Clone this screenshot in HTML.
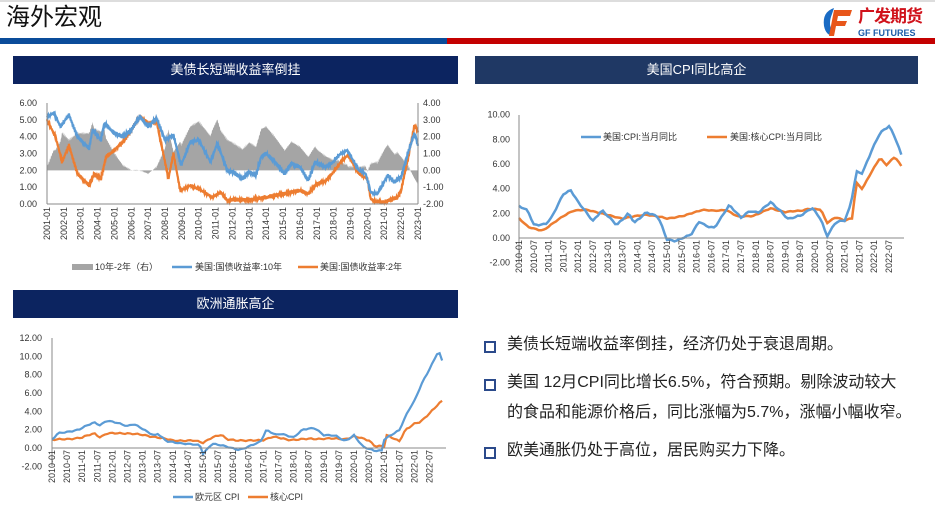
<!DOCTYPE html>
<html><head><meta charset="utf-8"><style>
html,body{margin:0;padding:0;background:#fff}
body{width:935px;height:508px;overflow:hidden;position:relative;font-family:"Liberation Sans","Noto Sans CJK SC",sans-serif}
.bar{position:absolute;color:#fff;font-size:13px;text-align:center;line-height:28px}
.bl{position:absolute;left:487px;font-size:16px;color:#222;line-height:30px;white-space:nowrap}
.sq{position:absolute;left:-3px;width:8px;height:8px;border:2px solid #2b4a8b}
</style></head><body>
<div style="position:absolute;left:0;top:0;width:935px;height:2px;background:#ddd"></div>
<div style="position:absolute;left:6px;top:3px;font-size:24px;line-height:30px;color:#111">海外宏观</div>
<div style="position:absolute;left:0;top:38px;width:447px;height:6px;background:#0a4c9a"></div>
<div style="position:absolute;left:447px;top:38px;width:488px;height:6px;background:#c40000"></div>
<svg style="position:absolute;left:820px;top:6px" width="36" height="32" viewBox="0 0 36 32">
<path d="M14 2 Q2 6 4 20 Q6 30 14 30 L12 24 Q8 18 12 8 Z" fill="#1a6bc4"/>
<path d="M14 4 L32 4 L30 10 L18 10 L17 15 L27 15 L25 20 L16 20 L14 30 L9 30 Z" fill="#e8561a"/>
</svg>
<div style="position:absolute;left:858px;top:7px;font-size:17px;line-height:20px;font-weight:bold;color:#d0121b;letter-spacing:-1px">广发期货</div>
<div style="position:absolute;left:858px;top:28px;font-size:9px;line-height:10px;font-weight:bold;color:#1a5ba8">GF FUTURES</div>
<div class="bar" style="left:13px;top:56px;width:445px;background:#0c2460">美债长短端收益率倒挂</div>
<div class="bar" style="left:475px;top:56px;width:443px;background:#1f3864">美国CPI同比高企</div>
<div class="bar" style="left:13px;top:290px;width:445px;background:#0c2460">欧洲通胀高企</div>
<div class="bl" style="top:330px"><span class="sq" style="top:11px"></span><span style="margin-left:20px">美债长短端收益率倒挂，经济仍处于衰退周期。</span></div>
<div class="bl" style="top:368px;width:440px"><span class="sq" style="top:11px"></span><span style="margin-left:20px">美国 12月CPI同比增长6.5%，符合预期。剔除波动较大</span><br><span style="margin-left:20px">的食品和能源价格后，同比涨幅为5.7%，涨幅小幅收窄。</span></div>
<div class="bl" style="top:436px"><span class="sq" style="top:11px"></span><span style="margin-left:20px">欧美通胀仍处于高位，居民购买力下降。</span></div>
<svg id="s" style="position:absolute;left:0;top:0" width="935" height="508" font-family="Liberation Sans,Noto Sans CJK SC,sans-serif" font-size="9" fill="#333"></svg>
<script>
var s=document.getElementById('s'),h='';
function interp(k,t){for(var i=0;i<k.length-1;i++){if(t<=k[i+1][0]){var a=k[i],b=k[i+1];return a[1]+(b[1]-a[1])*(t-a[0])/(b[0]-a[0]);}}return k[k.length-1][1];}
function nz(t,a){return a*(Math.sin(t*97.3)*0.5+Math.sin(t*233.1)*0.3+Math.sin(t*531.7)*0.2);}
function path(k,t0,t1,st,X,Y,a){var d='';for(var t=t0;t<=t1+1e-9;t+=st){d+=(d?'L':'M')+X(t).toFixed(1)+','+Y(interp(k,t)+nz(t,a)).toFixed(1);}return d;}
function P(k){var a=[];for(var i=0;i<k.length;i+=2)a.push([k[i],k[i+1]]);return a;}
var X1=function(t){return 47+(t-2001)*16.86},Y1=function(v){return 204-v*16.83};
var t10=P([2001,5.2,2001.4,5.4,2001.8,4.6,2002.3,5.3,2002.8,4.0,2003.5,3.3,2003.7,4.4,2004.2,3.8,2004.4,4.8,2005,4.2,2005.5,4.0,2006,4.4,2006.5,5.2,2007,4.6,2007.5,5.1,2008,3.8,2008.5,4.1,2008.95,2.3,2009.5,3.7,2010,3.8,2010.7,2.5,2011.1,3.6,2011.7,2.0,2012,1.9,2012.6,1.5,2013,1.9,2013.4,1.7,2013.7,2.8,2014,3.0,2014.5,2.5,2015.1,1.8,2015.5,2.4,2016,2.2,2016.5,1.4,2016.9,2.5,2017.5,2.2,2018,2.5,2018.3,2.9,2018.8,3.2,2019.5,2.0,2019.9,1.8,2020.2,0.7,2020.6,0.6,2021.2,1.7,2021.6,1.3,2022,1.6,2022.4,3.0,2022.8,4.2,2023,3.5]);
var t2=P([2001,5.0,2001.5,4.0,2001.9,2.5,2002.3,3.5,2002.8,1.8,2003.5,1.1,2003.8,1.8,2004.2,1.5,2004.5,2.8,2005,3.2,2005.5,3.7,2006,4.4,2006.5,5.2,2007,4.8,2007.5,4.9,2008,2.5,2008.2,1.5,2008.5,3.0,2008.9,0.8,2009.5,1.1,2010,0.9,2010.8,0.4,2011.3,0.7,2011.7,0.2,2012,0.25,2013,0.25,2014,0.4,2015,0.6,2016,0.8,2016.5,0.6,2017,1.2,2017.5,1.35,2018,1.9,2018.5,2.6,2018.85,2.9,2019.5,1.8,2020,1.5,2020.2,0.3,2020.5,0.15,2021,0.12,2021.8,0.4,2022,0.8,2022.4,2.7,2022.8,4.7,2023,4.3]);
var ad='M'+X1(2001)+','+Y1(2);for(var t=2001;t<=2023;t+=0.02){var sp=interp(t10,t)-interp(t2,t)+nz(t+3,0.1);ad+='L'+X1(t).toFixed(1)+','+Y1(2+sp).toFixed(1);}ad+='L'+X1(2023)+','+Y1(2)+'Z';
h+='<path d="'+ad+'" fill="#a5a5a5"/>';
h+='<path d="'+path(t2,2001,2023,0.02,X1,Y1,0.12)+'" stroke="#ed7d31" stroke-width="2.2" fill="none"/>';
h+='<path d="'+path(t10,2001,2023,0.02,X1,Y1,0.12)+'" stroke="#5b9bd5" stroke-width="2.2" fill="none"/>';
h+='<line x1="47" y1="103" x2="47" y2="204" stroke="#888"/><line x1="418" y1="103" x2="418" y2="204" stroke="#888"/><line x1="47" y1="204" x2="418" y2="204" stroke="#888"/>';
for(var i=0;i<=6;i++){h+='<text x="37" y="'+(Y1(i)+3)+'" text-anchor="end">'+i.toFixed(2)+'</text>';h+='<text x="423" y="'+(Y1(i)+3)+'">'+(i-2).toFixed(2)+'</text>';}
for(var y=2001;y<=2023;y++){var x=X1(y);h+='<text transform="translate('+(x+3)+',207) rotate(-90)" text-anchor="end">'+y+'-01</text>';}
h+='<rect x="72" y="264" width="21" height="6" fill="#a5a5a5"/><text x="95" y="270">10年-2年（右）</text>';
h+='<line x1="172" y1="267" x2="192" y2="267" stroke="#5b9bd5" stroke-width="2.5"/><text x="195" y="270">美国:国债收益率:10年</text>';
h+='<line x1="298" y1="267" x2="318" y2="267" stroke="#ed7d31" stroke-width="2.5"/><text x="320" y="270">美国:国债收益率:2年</text>';
var X2=function(t){return 519+(t-2010)*29.6},Y2=function(v){return 238-v*12.33};
var c=P([2010,2.6,2010.3,2.2,2010.5,1.1,2010.9,1.1,2011.1,1.6,2011.5,3.6,2011.75,3.9,2012,2.9,2012.5,1.4,2012.8,2.2,2013.3,1.1,2013.7,2.0,2013.9,1.2,2014.3,2.1,2014.7,1.7,2015,-0.1,2015.3,-0.2,2015.8,0.2,2016.1,1.4,2016.3,1.0,2016.6,0.8,2017.1,2.7,2017.5,1.6,2017.8,2.2,2018.1,2.1,2018.5,2.9,2018.8,2.3,2019.1,1.5,2019.5,1.8,2019.9,2.5,2020.2,1.5,2020.4,0.1,2020.7,1.3,2021,1.4,2021.2,2.6,2021.4,5.4,2021.6,5.3,2021.9,7.0,2022.2,8.5,2022.5,9.1,2022.7,8.2,2022.95,6.5]);
var cc=P([2010,1.6,2010.3,0.9,2010.8,0.6,2011,0.9,2011.5,1.8,2011.8,2.2,2012.3,2.3,2012.9,1.9,2013.5,1.6,2014.3,1.9,2015,1.6,2015.6,1.8,2016.2,2.3,2016.6,2.2,2017,2.3,2017.4,1.7,2017.9,1.8,2018.5,2.4,2019,2.1,2019.5,2.2,2019.8,2.4,2020.2,2.3,2020.4,1.2,2020.7,1.7,2021,1.4,2021.25,1.6,2021.4,4.5,2021.6,4.0,2021.8,4.9,2022.2,6.5,2022.4,5.9,2022.7,6.6,2022.95,5.7]);
h+='<path d="'+path(cc,2010,2022.95,1/12,X2,Y2,0.06)+'" stroke="#ed7d31" stroke-width="2.5" fill="none"/>';
h+='<path d="'+path(c,2010,2022.95,1/12,X2,Y2,0.1)+'" stroke="#5b9bd5" stroke-width="2.5" fill="none"/>';
h+='<line x1="519" y1="115" x2="519" y2="263" stroke="#888"/><line x1="519" y1="238" x2="904" y2="238" stroke="#888"/>';
for(var v=-2;v<=10;v+=2)h+='<text x="510" y="'+(Y2(v)+3)+'" text-anchor="end">'+v.toFixed(2)+'</text>';
for(var k=0;k<=25;k++){var yr=2010+Math.floor(k/2),lab=yr+(k%2?'-07':'-01');h+='<text transform="translate('+(X2(2010+k/2)+3)+',240) rotate(-90)" text-anchor="end">'+lab+'</text>';}
h+='<line x1="581" y1="137" x2="601" y2="137" stroke="#5b9bd5" stroke-width="2.5"/><text x="603" y="140">美国:CPI:当月同比</text>';
h+='<line x1="707" y1="137" x2="727" y2="137" stroke="#ed7d31" stroke-width="2.5"/><text x="730" y="140">美国:核心CPI:当月同比</text>';
var X3=function(t){return 52+(t-2010)*30.2},Y3=function(v){return 448-v*9.17};
var e=P([2010,0.9,2010.2,1.6,2010.9,2.0,2011.4,2.8,2011.6,2.5,2011.8,3.0,2012.2,2.7,2012.5,2.4,2012.7,2.6,2013.2,1.7,2013.4,1.4,2013.5,1.6,2013.8,0.7,2014.3,0.5,2014.9,0.3,2015,-0.6,2015.3,0.5,2015.8,0.1,2016.2,-0.2,2016.4,0.0,2016.9,0.7,2017.1,2.0,2017.4,1.4,2017.6,1.5,2018,1.2,2018.3,2.0,2018.7,2.2,2019,1.4,2019.4,1.3,2019.7,0.8,2020,1.4,2020.3,0.1,2020.7,-0.3,2020.95,-0.3,2021,0.9,2021.5,2.0,2021.8,4.1,2022,5.1,2022.3,7.4,2022.5,8.6,2022.8,10.6,2022.95,9.2]);
var ec=P([2010,0.9,2010.5,1.0,2011,1.1,2011.4,1.6,2011.6,1.2,2011.8,1.6,2012.5,1.6,2013,1.4,2013.5,1.2,2014,0.8,2014.7,0.8,2015,0.6,2015.3,1.2,2015.6,1.4,2015.8,0.9,2016.5,0.8,2017,0.9,2017.3,1.2,2017.8,0.9,2018.5,1.0,2019,1.0,2019.7,1.0,2020,1.3,2020.5,0.8,2020.7,0.2,2021,0.2,2021.05,1.4,2021.5,0.8,2021.7,2.0,2022,2.6,2022.2,2.8,2022.5,3.8,2022.8,4.8,2022.95,5.2]);
h+='<path d="'+path(ec,2010,2022.95,1/12,X3,Y3,0.12)+'" stroke="#ed7d31" stroke-width="2.2" fill="none"/>';
h+='<path d="'+path(e,2010,2022.95,1/12,X3,Y3,0.1)+'" stroke="#5b9bd5" stroke-width="2.2" fill="none"/>';
h+='<line x1="52" y1="338" x2="52" y2="466" stroke="#888"/><line x1="52" y1="448" x2="446" y2="448" stroke="#888"/>';
for(var v=-2;v<=12;v+=2)h+='<text x="42" y="'+(Y3(v)+3)+'" text-anchor="end">'+v.toFixed(2)+'</text>';
for(var k=0;k<=25;k++){var yr=2010+Math.floor(k/2),lab=yr+(k%2?'-07':'-01');h+='<text transform="translate('+(X3(2010+k/2)+3)+',450) rotate(-90)" text-anchor="end">'+lab+'</text>';}
h+='<line x1="173" y1="497" x2="193" y2="497" stroke="#5b9bd5" stroke-width="2.5"/><text x="195" y="500">欧元区 CPI</text>';
h+='<line x1="248" y1="497" x2="268" y2="497" stroke="#ed7d31" stroke-width="2.5"/><text x="270" y="500">核心CPI</text>';
s.innerHTML=h;
</script>
</body></html>
